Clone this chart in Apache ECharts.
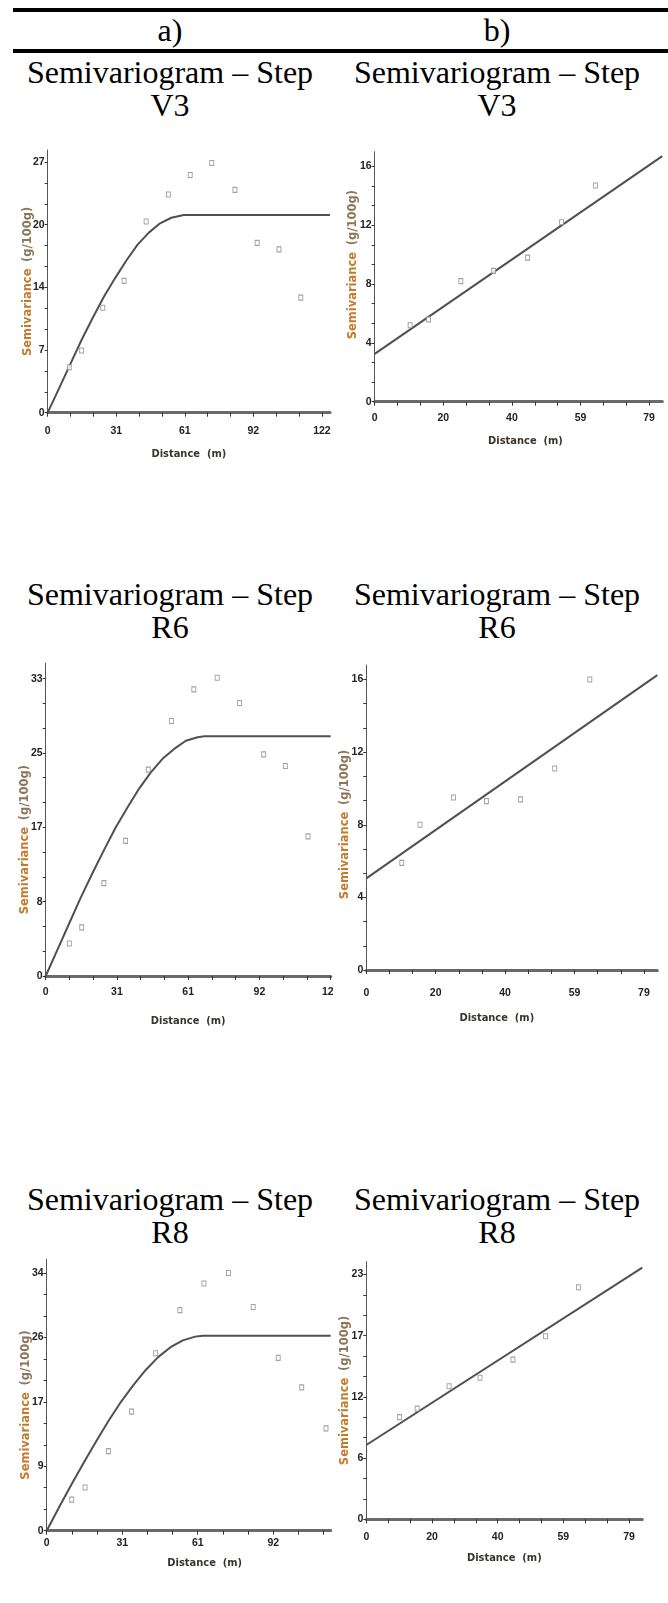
<!DOCTYPE html>
<html>
<head>
<meta charset="utf-8">
<script src="https://cdn.jsdelivr.net/npm/echarts@6/dist/echarts.min.js"></script>
<style>
body{margin:0;background:#fff;}
#page{position:relative;width:668px;height:1603px;overflow:hidden;font-family:'Liberation Serif','Times New Roman',serif;color:#000;}
.rule{position:absolute;left:13px;right:0;height:4px;background:#000;}
.t{position:absolute;text-align:center;font-size:32px;line-height:33px;white-space:nowrap;}
.l{left:10px;width:320px;}
.r{left:332px;width:330px;}
.chart{position:absolute;}
</style>
</head>
<body>
<div id="page">
  <div class="rule" style="top:8px"></div>
  <div class="t l" style="top:14px">a)</div>
  <div class="t r" style="top:14px">b)</div>
  <div class="rule" style="top:49px"></div>

  <div class="t l" style="top:56px">Semivariogram – Step<br>V3</div>
  <div class="t r" style="top:56px">Semivariogram – Step<br>V3</div>
  <div class="t l" style="top:578px">Semivariogram – Step<br>R6</div>
  <div class="t r" style="top:578px">Semivariogram – Step<br>R6</div>
  <div class="t l" style="top:1183px">Semivariogram – Step<br>R8</div>
  <div class="t r" style="top:1183px">Semivariogram – Step<br>R8</div>

  <div class="chart" id="c1" style="left:0;top:125px;width:333px;height:345px"></div>
  <div class="chart" id="c2" style="left:334px;top:125px;width:334px;height:345px"></div>
  <div class="chart" id="c3" style="left:0;top:645px;width:333px;height:400px"></div>
  <div class="chart" id="c4" style="left:334px;top:645px;width:334px;height:400px"></div>
  <div class="chart" id="c5" style="left:0;top:1240px;width:333px;height:363px"></div>
  <div class="chart" id="c6" style="left:334px;top:1240px;width:334px;height:363px"></div>
</div>
<script>
// ---- data ----
// step V3, a) spherical model
var lagV3a = [9.6, 15.1, 24.5, 34.0, 43.8, 53.7, 63.4, 73.0, 83.3, 93.2, 102.9, 112.6];
var semV3a = [4.9, 6.7, 11.3, 14.2, 20.6, 23.5, 25.6, 26.9, 24.0, 18.3, 17.6, 12.4];
var fitXV3a = [0, 5, 10, 15, 20, 25, 30, 35, 40, 45, 50, 55, 60.5, 125.6];
var fitYV3a = [0, 2.6, 5.2, 7.8, 10.2, 12.5, 14.5, 16.4, 18.1, 19.4, 20.4, 21.0, 21.3, 21.3];
// step V3, b) linear model
var lagV3b = [10.2, 15.5, 24.8, 34.2, 44.0, 53.8, 63.6];
var semV3b = [5.2, 5.6, 8.2, 8.9, 9.8, 12.2, 14.7];
var fitXV3b = [0, 82.8];
var fitYV3b = [3.25, 16.7];
// step R6, a)
var lagR6a = [10.1, 15.4, 24.9, 34.2, 43.9, 53.8, 63.4, 73.4, 83.0, 93.3, 102.6, 112.3];
var semR6a = [3.6, 5.4, 10.3, 15.0, 22.9, 28.3, 31.8, 33.1, 30.3, 24.6, 23.3, 15.5];
var fitXR6a = [0, 5, 10, 15, 20, 25, 30, 35, 40, 45, 50, 55, 60, 65, 68, 122];
var fitYR6a = [0, 2.9, 5.8, 8.7, 11.4, 14.0, 16.5, 18.7, 20.8, 22.6, 24.1, 25.2, 26.1, 26.5, 26.6, 26.6];
// step R6, b)
var lagR6b = [10.1, 15.3, 24.8, 34.2, 43.9, 53.6, 63.6];
var semR6b = [5.9, 8.0, 9.5, 9.3, 9.4, 11.1, 16.0];
var fitXR6b = [0, 82.8];
var fitYR6b = [5.05, 16.24];
// step R8, a)
var lagR8a = [10.1, 15.5, 24.9, 34.3, 44.0, 53.8, 63.5, 73.4, 83.4, 93.5, 103.0, 112.8];
var semR8a = [4.1, 5.7, 10.5, 15.7, 23.4, 29.1, 32.6, 34.0, 29.5, 22.8, 18.9, 13.5];
var fitXR8a = [0, 5, 10, 15, 20, 25, 30, 35, 40, 45, 50, 55, 60, 63, 114.7];
var fitYR8a = [0, 3.1, 6.1, 9.0, 11.8, 14.5, 17.0, 19.2, 21.2, 22.9, 24.2, 25.1, 25.6, 25.7, 25.7];
// step R8, b)
var lagR8b = [10.0, 15.3, 24.9, 34.2, 44.1, 53.9, 63.8];
var semR8b = [9.6, 10.4, 12.5, 13.3, 15.0, 17.2, 21.8];
var fitXR8b = [0, 83.0];
var fitYR8b = [6.98, 23.65];

// tick positions and the labels printed at them
var xTickA = [0, 30.5, 61, 91.5, 122];
var xLabA = ['0', '31', '61', '92', '122'];
var xTickB = [0, 19.75, 39.5, 59.25, 79];
var xLabB = ['0', '20', '40', '59', '79'];
var yTickV3a = [0, 6.75, 13.5, 20.25, 27];
var yLabV3a = ['0', '7', '14', '20', '27'];
var yTick16 = [0, 4, 8, 12, 16];
var yLab16 = ['0', '4', '8', '12', '16'];
var yTickR6a = [0, 8.25, 16.5, 24.75, 33];
var yLabR6a = ['0', '8', '17', '25', '33'];
var yTickR8a = [0, 8.5, 17, 25.5, 34];
var yLabR8a = ['0', '9', '17', '26', '34'];
var yTickR8b = [0, 5.75, 11.5, 17.25, 23];
var yLabR8b = ['0', '6', '12', '17', '23'];

var tickFont = '"Liberation Sans",Arial,sans-serif';
var nameFont = '"DejaVu Sans Condensed","Liberation Sans",sans-serif';

// major ticks split in three, continued up to the axis end
function minorTicks (major, max) {
	var out = [];
	for (var i = 0; i < major.length - 1; i++) {
		var st = (major[i + 1] - major[i]) / 3;
		out.push(major[i], major[i] + st, major[i] + 2 * st);
	}
	var last = major[major.length - 1];
	var step = (last - major[major.length - 2]) / 3;
	for (var v = last; v <= max + 1e-6; v += step) out.push(v);
	return out.filter(function (v) { return v <= max + 1e-6; });
}

function labelOf (ticks, labels) {
	return function (v) {
		for (var i = 0; i < ticks.length; i++) {
			if (Math.abs(ticks[i] - v) < 1e-6) return labels[i];
		}
		return '';
	};
}

function pairs (xs, ys) {
	return xs.map(function (x, i) { return [x, ys[i]]; });
}

function drawChart (id, d, lay) {
	var myChart = echarts.init(document.getElementById(id));
	var xs = d.xTick.filter(function (v) { return v <= d.xMax + 1e-6; });
	var option = {
		animation: false,
		grid: {
			left: lay.grid[0], top: lay.grid[1], width: lay.grid[2], height: lay.grid[3],
			outerBoundsMode: 'none' // let the last label be cut by the cell edge, as in the scan
		},
		xAxis: {
			type: 'value', min: 0, max: d.xMax,
			axisLine: { onZero: false, lineStyle: { color: '#6a6a6a', width: 3 } },
			axisTick: { customValues: minorTicks(d.xTick, d.xMax), length: 4, lineStyle: { color: '#333', width: 1 } },
			axisLabel: {
				customValues: xs, formatter: labelOf(d.xTick, d.xLab),
				margin: lay.xMargin, fontFamily: tickFont, fontWeight: 'bold', fontSize: 10.5, color: '#222'
			},
			splitLine: { show: false },
			name: 'Distance  (m)', nameLocation: 'middle', nameGap: lay.xNameGap, nameMoveOverlap: false,
			nameTextStyle: {
				fontFamily: nameFont, fontWeight: 'bold', fontSize: 11, color: '#3a3430',
				padding: lay.xShift >= 0 ? [0, 0, 0, 2 * lay.xShift] : [0, -2 * lay.xShift, 0, 0]
			}
		},
		yAxis: {
			type: 'value', min: 0, max: d.yMax,
			axisLine: { lineStyle: { color: '#555', width: 1 } },
			axisTick: { customValues: minorTicks(d.yTick, d.yMax), length: 3, lineStyle: { color: '#333', width: 1 } },
			axisLabel: {
				customValues: d.yTick, formatter: labelOf(d.yTick, d.yLab),
				margin: 3, fontFamily: tickFont, fontWeight: 'bold', fontSize: 10.5, color: '#222'
			},
			splitLine: { show: false },
			name: '{a|Semivariance}  {b|(g/100g)}', nameLocation: 'middle', nameGap: lay.yNameGap, nameMoveOverlap: false,
			nameTextStyle: {
				padding: lay.yShift >= 0 ? [0, 0, 0, 2 * lay.yShift] : [0, -2 * lay.yShift, 0, 0],
				rich: {
					a: { fontFamily: 'DejaVu Sans', fontWeight: 'bold', fontSize: 11.5, color: '#c27a2c' },
					b: { fontFamily: 'DejaVu Sans', fontWeight: 'bold', fontSize: 11.5, color: '#8c7658' }
				}
			}
		},
		series: [
			{
				type: 'line',
				data: pairs(d.fitX, d.fitY),
				showSymbol: false,
				lineStyle: { color: '#505050', width: 2 },
				z: 2
			},
			{
				type: 'scatter',
				data: pairs(d.lag, d.sem),
				symbol: 'rect',
				symbolSize: [4, 5],
				itemStyle: { color: '#fff', borderColor: '#8a8a8a', borderWidth: 1 },
				z: 3
			}
		]
	};
	myChart.setOption(option);
}

drawChart('c1',
	{ lag: lagV3a, sem: semV3a, fitX: fitXV3a, fitY: fitYV3a, xMax: 125.6, yMax: 28.3,
	  xTick: xTickA, xLab: xLabA, yTick: yTickV3a, yLab: yLabV3a },
	{ grid: [47.7, 25, 282.3, 262.7], xMargin: 13, xNameGap: 36, xShift: 0, yNameGap: 14, yShift: 0 });
drawChart('c2',
	{ lag: lagV3b, sem: semV3b, fitX: fitXV3b, fitY: fitYV3b, xMax: 82.8, yMax: 17.0,
	  xTick: xTickB, xLab: xLabB, yTick: yTick16, yLab: yLab16 },
	{ grid: [40.7, 26.7, 287.6, 250], xMargin: 11, xNameGap: 34, xShift: 7, yNameGap: 15.5, yShift: 12 });
drawChart('c3',
	{ lag: lagR6a, sem: semR6a, fitX: fitXR6a, fitY: fitYR6a, xMax: 122, yMax: 34.7,
	  xTick: xTickA, xLab: xLabA, yTick: yTickR6a, yLab: yLabR6a },
	{ grid: [45.7, 18.3, 285, 312.7], xMargin: 11, xNameGap: 40, xShift: 0, yNameGap: 15, yShift: -20 });
drawChart('c4',
	{ lag: lagR6b, sem: semR6b, fitX: fitXR6b, fitY: fitYR6b, xMax: 82.8, yMax: 16.8,
	  xTick: xTickB, xLab: xLabB, yTick: yTick16, yLab: yLab16 },
	{ grid: [32.3, 20, 291, 305], xMargin: 18, xNameGap: 43, xShift: -15, yNameGap: 15.5, yShift: -7 });
drawChart('c5',
	{ lag: lagR8a, sem: semR8a, fitX: fitXR8a, fitY: fitYR8a, xMax: 114.7, yMax: 35.8,
	  xTick: xTickA, xLab: xLabA, yTick: yTickR8a, yLab: yLabR8a },
	{ grid: [46.7, 19.3, 284, 271.4], xMargin: 7, xNameGap: 27, xShift: 16, yNameGap: 15, yShift: -10 });
drawChart('c6',
	{ lag: lagR8b, sem: semR8b, fitX: fitXR8b, fitY: fitYR8b, xMax: 83.0, yMax: 24.2,
	  xTick: xTickB, xLab: xLabB, yTick: yTickR8b, yLab: yLabR8b },
	{ grid: [32.3, 21.7, 276, 257.6], xMargin: 12, xNameGap: 33, xShift: 0, yNameGap: 15, yShift: 0 });
</script>
</body>
</html>
